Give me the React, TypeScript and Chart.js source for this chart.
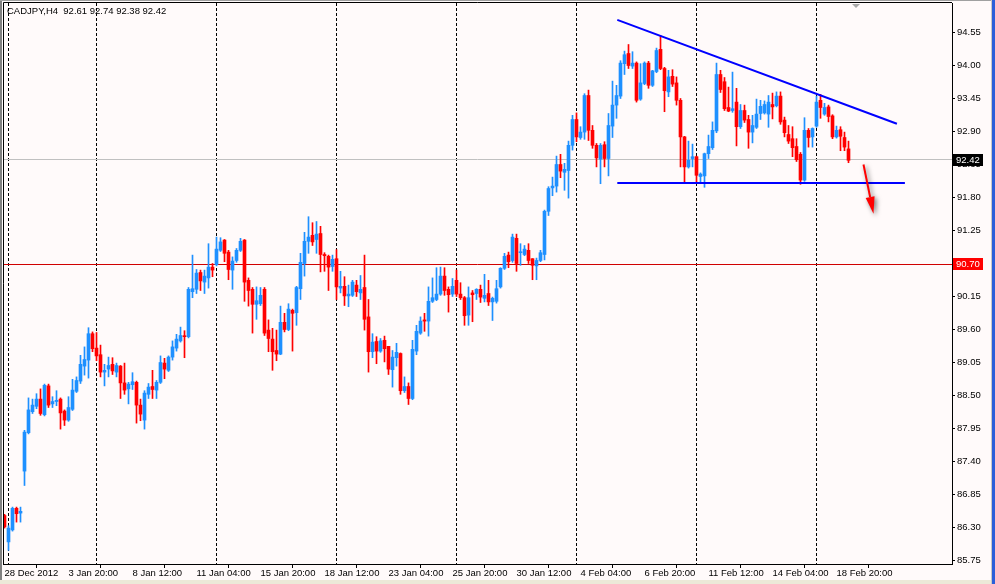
import React, { useEffect, useRef } from "react";
import { Chart, registerables } from "chart.js";

Chart.register(...registerables);

const symbol = "CADJPY";
const timeframe = "H4";

// H4 candles, oldest first (28 Dec 2012 .. 19 Feb 2013)
const opens = [
  86.5, 86.06, 86.26, 86.62, 86.54, 87.24, 87.88, 88.23, 88.32, 88.44, 88.18, 88.66, 88.36, 88.4, 88.44, 88.24,
  88.09, 88.27, 88.57, 88.74, 88.99, 89.09, 89.53, 89.29, 89.18, 88.89, 88.94, 89.02, 88.89, 88.99, 88.71, 88.61,
  88.68, 88.72, 88.34, 88.09, 88.52, 88.65, 88.59, 88.72, 89.04, 88.92, 89.14, 89.29, 89.41, 89.49, 89.48, 90.23,
  90.27, 90.55, 90.39, 90.46, 90.64, 90.68, 90.92, 91.09, 90.89, 90.59, 90.75, 90.92, 91.09, 90.42, 90.27, 90.02,
  90.03, 90.27, 89.59, 89.44, 89.25, 89.19, 89.72, 89.6, 89.92, 89.88, 90.28, 90.7, 91.07, 91.17, 91.1, 91.2,
  90.85, 90.82, 90.65, 90.78, 90.29, 90.32, 90.16, 90.17, 90.34, 90.21, 90.3, 89.81, 89.23, 89.4, 89.24, 89.42,
  89.32, 88.93, 89.13, 89.2, 88.58, 88.65, 88.45, 89.24, 89.54, 89.76, 89.74, 90.07, 90.1, 90.19, 90.49, 90.27,
  90.19, 90.42, 90.19, 90.13, 89.84, 90.21, 90.2, 90.27, 90.12, 90.2, 90.06, 90.07, 90.31, 90.62, 90.84, 90.75,
  91.12, 90.88, 90.85, 90.92, 90.78, 90.66, 90.75, 90.85, 91.57, 91.96, 91.99, 92.35, 92.22, 92.25, 92.67, 93.1,
  92.8, 92.89, 93.5, 92.92, 92.67, 92.44, 92.68, 92.45, 92.99, 93.34, 93.49, 94.03, 94.2, 93.99, 94.04, 93.44,
  93.7, 94.04, 93.67, 93.9, 94.27, 93.95, 93.56, 93.82, 93.71, 93.42, 92.81, 92.31, 92.45, 92.48, 92.15, 92.16,
  92.53, 92.63, 92.91, 93.85, 93.73, 93.3, 93.25, 93.39, 92.98, 93.25, 93.1, 92.89, 92.97, 93.2, 93.21, 93.19,
  93.35, 93.33, 93.49, 93.09, 92.85, 92.78, 92.65, 92.52, 92.09, 92.92, 92.81, 92.99, 93.42, 93.19, 93.31, 93.16,
  92.81, 92.93, 92.8, 92.61,
];
const highs = [
  86.52, 86.33, 86.64, 86.64, 86.64, 87.92, 88.46, 88.44, 88.53, 88.61, 88.69, 88.69, 88.48, 88.58, 88.46, 88.26,
  88.48, 88.77, 88.81, 89.17, 89.31, 89.63, 89.56, 89.55, 89.34, 89.02, 89.14, 89.13, 89.04, 89.0, 89.04, 88.72,
  88.88, 88.74, 88.44, 88.58, 88.7, 88.92, 88.75, 89.16, 89.12, 89.16, 89.41, 89.52, 89.64, 89.58, 90.3, 90.84,
  90.6, 90.59, 90.59, 91.03, 90.7, 91.14, 91.13, 91.1, 90.92, 90.81, 90.95, 91.12, 91.1, 90.46, 90.3, 90.31,
  90.3, 90.3, 89.76, 89.62, 89.59, 89.99, 89.87, 90.03, 89.94, 90.32, 90.87, 91.22, 91.48, 91.38, 91.4, 91.32,
  90.88, 90.84, 90.84, 90.93, 90.57, 90.48, 90.34, 90.42, 90.42, 90.5, 90.84, 90.1, 89.53, 89.48, 89.45, 89.49,
  89.32, 89.25, 89.37, 89.21, 88.81, 88.71, 89.42, 89.67, 89.81, 89.87, 90.31, 90.46, 90.63, 90.64, 90.63, 90.31,
  90.45, 90.59, 90.38, 90.15, 90.31, 90.25, 90.28, 90.34, 90.52, 90.42, 90.14, 90.42, 90.63, 90.87, 90.89, 91.19,
  91.19, 91.03, 91.0, 91.03, 90.78, 90.79, 90.92, 91.59, 91.98, 92.14, 92.49, 92.52, 92.37, 92.74, 93.17, 93.21,
  92.98, 93.53, 93.59, 93.0, 92.7, 92.7, 92.73, 93.2, 93.74, 93.67, 94.08, 94.24, 94.35, 94.23, 94.06, 94.03,
  94.06, 94.07, 93.92, 94.29, 94.5, 93.97, 93.92, 93.93, 93.81, 93.45, 92.82, 92.74, 92.69, 92.49, 92.21, 92.54,
  92.84, 93.06, 94.04, 93.92, 93.8, 93.64, 93.89, 93.62, 93.35, 93.34, 93.17, 93.17, 93.44, 93.42, 93.41, 93.5,
  93.54, 93.56, 93.56, 93.14, 93.0, 92.98, 92.78, 92.55, 93.13, 92.95, 92.96, 93.49, 93.52, 93.37, 93.34, 93.18,
  92.99, 92.98, 92.89, 92.74,
];
const lows = [
  86.29, 85.92, 86.24, 86.39, 86.39, 87.0, 87.86, 88.2, 88.28, 88.17, 88.16, 88.3, 88.3, 88.33, 87.94, 88.0,
  88.07, 88.25, 88.55, 88.7, 88.84, 88.79, 89.23, 89.08, 88.81, 88.66, 88.81, 88.85, 88.81, 88.45, 88.52, 88.36,
  88.6, 88.04, 88.08, 87.94, 88.45, 88.45, 88.45, 88.7, 88.78, 88.9, 89.09, 89.24, 89.39, 89.13, 89.46, 90.13,
  90.2, 90.25, 90.2, 90.29, 90.48, 90.66, 90.9, 90.73, 90.43, 90.27, 90.72, 90.9, 90.07, 89.99, 89.54, 89.77,
  90.0, 89.5, 89.23, 88.92, 89.08, 89.18, 89.56, 89.58, 89.24, 89.67, 90.1, 90.49, 90.87, 91.0, 90.87, 90.56,
  90.57, 90.25, 90.57, 90.1, 90.21, 90.0, 89.98, 90.15, 90.15, 90.1, 89.59, 88.89, 89.13, 89.03, 89.22, 89.06,
  88.85, 88.64, 88.99, 88.52, 88.55, 88.35, 88.43, 89.18, 89.52, 89.57, 89.49, 90.05, 90.08, 90.17, 90.17, 89.89,
  90.15, 90.15, 90.1, 89.67, 89.67, 89.73, 90.1, 90.05, 90.06, 90.0, 89.75, 90.04, 90.29, 90.6, 90.63, 90.72,
  90.57, 90.67, 90.83, 90.7, 90.43, 90.43, 90.73, 90.76, 91.5, 91.83, 91.89, 92.13, 91.92, 91.79, 92.59, 92.73,
  92.77, 92.77, 92.75, 92.62, 92.31, 92.03, 92.31, 92.16, 92.8, 93.12, 93.45, 93.85, 93.95, 93.95, 93.39, 93.42,
  93.68, 93.62, 93.65, 93.88, 93.93, 93.23, 93.48, 93.65, 93.34, 92.31, 92.04, 92.29, 92.31, 92.03, 92.03, 91.97,
  92.45, 92.6, 92.88, 93.55, 93.25, 93.23, 93.22, 92.66, 92.95, 93.05, 92.62, 92.71, 92.95, 93.1, 93.19, 92.97,
  93.11, 93.31, 93.02, 92.81, 92.7, 92.48, 92.4, 92.02, 92.07, 92.64, 92.64, 92.97, 93.12, 93.17, 93.06, 92.78,
  92.79, 92.58, 92.58, 92.38,
];
const closes = [
  86.31, 86.29, 86.62, 86.53, 86.57, 87.89, 88.26, 88.34, 88.44, 88.2, 88.67, 88.34, 88.4, 88.42, 88.21, 88.09,
  88.3, 88.59, 88.75, 89.02, 89.1, 89.53, 89.28, 89.16, 88.89, 88.92, 89.0, 88.91, 89.0, 88.71, 88.59, 88.69,
  88.73, 88.34, 88.19, 88.54, 88.64, 88.6, 88.72, 89.05, 88.94, 89.14, 89.31, 89.44, 89.5, 89.48, 90.27, 90.28,
  90.54, 90.41, 90.49, 90.64, 90.59, 90.94, 91.06, 90.87, 90.6, 90.74, 90.92, 91.07, 90.39, 90.25, 90.02, 90.08,
  90.17, 89.54, 89.45, 89.23, 89.19, 89.72, 89.6, 89.94, 89.87, 90.3, 90.72, 91.07, 91.14, 91.06, 91.19, 90.85,
  90.83, 90.64, 90.77, 90.31, 90.32, 90.16, 90.19, 90.39, 90.23, 90.27, 89.77, 89.23, 89.39, 89.24, 89.41, 89.28,
  88.94, 89.14, 89.22, 88.58, 88.65, 88.45, 89.27, 89.57, 89.74, 89.74, 90.07, 90.13, 90.19, 90.49, 90.25, 90.18,
  90.32, 90.19, 90.13, 89.83, 90.13, 90.18, 90.27, 90.14, 90.17, 90.06, 90.12, 90.28, 90.62, 90.82, 90.73, 91.14,
  90.7, 90.89, 90.94, 90.75, 90.67, 90.75, 90.88, 91.57, 91.95, 91.99, 92.35, 92.24, 92.27, 92.67, 93.1, 92.81,
  92.89, 93.5, 92.92, 92.67, 92.46, 92.67, 92.45, 93.0, 93.34, 93.5, 94.04, 94.18, 94.0, 94.04, 93.42, 93.71,
  94.04, 93.67, 93.91, 94.25, 93.95, 93.58, 93.81, 93.69, 93.42, 92.81, 92.31, 92.42, 92.48, 92.17, 92.19, 92.53,
  92.65, 92.92, 93.85, 93.6, 93.28, 93.24, 93.28, 92.98, 93.25, 93.09, 92.89, 93.0, 93.19, 93.32, 93.35, 93.39,
  93.31, 93.49, 93.06, 92.88, 92.74, 92.63, 92.43, 92.09, 92.92, 92.8, 92.95, 93.39, 93.3, 93.3, 93.15, 92.81,
  92.92, 92.82, 92.64, 92.42,
];

// time axis labels (every 16 bars) and weekly separators
const xTickBars = [0, 16, 32, 48, 64, 80, 96, 112, 128, 144, 160, 176, 192, 208];
const xTickLabels = [
  "28 Dec 2012", "3 Jan 20:00", "8 Jan 12:00", "11 Jan 04:00", "15 Jan 20:00", "18 Jan 12:00", "23 Jan 04:00",
  "25 Jan 20:00", "30 Jan 12:00", "4 Feb 04:00", "6 Feb 20:00", "11 Feb 12:00", "14 Feb 04:00", "18 Feb 20:00",
];
const weekStartBars = [1, 23, 53, 83, 113, 143, 173, 203];
const yTickValues = [
  85.75, 86.3, 86.85, 87.4, 87.95, 88.5, 89.05, 89.6, 90.15, 90.7, 91.25, 91.8, 92.35, 92.9, 93.45, 94.0, 94.55,
];
const levelPrice = 90.7;

// hand drawn objects (bar index, price)
const resistanceLine = [
  { x: 153.2, y: 94.76 },
  { x: 223.1, y: 93.03 },
];
const supportLine = [
  { x: 153.2, y: 92.04 },
  { x: 225.1, y: 92.04 },
];
const arrowFrom = { x: 214.75, y: 92.35 };
const arrowTo = { x: 217.25, y: 91.53 };
const chartShiftBar = 212.9;

const FONT = "'Liberation Sans', Arial, sans-serif";
const FONT_SIZE = 9.5;
const UP = "#1E90FF";
const DOWN = "#FF0000";

const mt4Plugin = {
  id: "mt4Decor",
  beforeDraw(chart: any) {
    const { ctx, width, height } = chart;
    ctx.save();
    ctx.fillStyle = "#FFFAFA";
    ctx.fillRect(0, 0, width, height);
    ctx.fillStyle = "#ECE9D8";
    ctx.fillRect(0, 580, width, height - 580);
    ctx.fillStyle = "#808080";
    ctx.fillRect(0, 0, 2, 580);
    ctx.fillStyle = "#A0A0A0";
    ctx.fillRect(0, 0, width, 1);
    ctx.restore();
  },
  beforeDatasetsDraw(chart: any) {
    const { ctx, chartArea: a } = chart;
    const xs = chart.scales.x;
    const ys = chart.scales.y;
    ctx.save();
    ctx.beginPath();
    ctx.rect(a.left, a.top, a.right - a.left, a.bottom - a.top);
    ctx.clip();
    // weekly separators
    ctx.strokeStyle = "#000";
    ctx.lineWidth = 1;
    ctx.setLineDash([3, 2]);
    weekStartBars.forEach((b) => {
      const px = Math.floor(xs.getPixelForValue(b)) + 0.5;
      ctx.beginPath();
      ctx.moveTo(px, a.top);
      ctx.lineTo(px, a.bottom);
      ctx.stroke();
    });
    ctx.setLineDash([]);
    // level line and bid line
    const lv = Math.round(ys.getPixelForValue(levelPrice)) + 0.5;
    ctx.strokeStyle = "#D00000";
    ctx.beginPath();
    ctx.moveTo(a.left, lv);
    ctx.lineTo(a.right, lv);
    ctx.stroke();
    const bid = Math.round(ys.getPixelForValue(closes[closes.length - 1])) - 0.5;
    ctx.strokeStyle = "#C0C0C0";
    ctx.beginPath();
    ctx.moveTo(a.left, bid);
    ctx.lineTo(a.right, bid);
    ctx.stroke();
    ctx.restore();
  },
  afterDatasetsDraw(chart: any) {
    const { ctx } = chart;
    const xs = chart.scales.x;
    const ys = chart.scales.y;
    const x1 = xs.getPixelForValue(arrowFrom.x);
    const y1 = ys.getPixelForValue(arrowFrom.y);
    const x2 = xs.getPixelForValue(arrowTo.x);
    const y2 = ys.getPixelForValue(arrowTo.y);
    const ang = Math.atan2(y2 - y1, x2 - x1);
    const headLen = 17;
    const headW = 4.5;
    const bx = x2 - Math.cos(ang) * headLen;
    const by = y2 - Math.sin(ang) * headLen;
    ctx.save();
    ctx.shadowColor = "rgba(0,0,0,0.55)";
    ctx.shadowBlur = 5;
    ctx.shadowOffsetX = 2;
    ctx.shadowOffsetY = 2;
    ctx.strokeStyle = "#FF0000";
    ctx.fillStyle = "#FF0000";
    ctx.lineWidth = 2;
    ctx.beginPath();
    ctx.moveTo(x1, y1);
    ctx.lineTo(bx, by);
    ctx.stroke();
    ctx.beginPath();
    ctx.moveTo(x2, y2);
    ctx.lineTo(bx + Math.sin(ang) * headW, by - Math.cos(ang) * headW);
    ctx.lineTo(bx - Math.sin(ang) * headW, by + Math.cos(ang) * headW);
    ctx.closePath();
    ctx.fill();
    ctx.restore();
  },
  afterDraw(chart: any) {
    const { ctx, chartArea: a, width } = chart;
    const xs = chart.scales.x;
    const ys = chart.scales.y;
    ctx.save();
    // frame left/top
    ctx.strokeStyle = "#000";
    ctx.lineWidth = 1;
    ctx.beginPath();
    ctx.moveTo(a.left + 0.5, a.bottom);
    ctx.lineTo(a.left + 0.5, a.top - 0.5);
    ctx.lineTo(a.right, a.top - 0.5);
    ctx.stroke();
    // right edge
    ctx.fillStyle = "#C8C8C8";
    ctx.fillRect(width - 4, 0, 1, 584);
    ctx.fillStyle = "#2B5FD9";
    ctx.fillRect(width - 3, 0, 3, 584);
    // price boxes
    ctx.font = `${FONT_SIZE}px ${FONT}`;
    ctx.textBaseline = "middle";
    ctx.textAlign = "left";
    const boxes = [
      { v: closes[closes.length - 1], bg: "#000000" },
      { v: levelPrice, bg: "#FF0000" },
    ];
    boxes.forEach((b) => {
      const cy = Math.round(ys.getPixelForValue(b.v));
      ctx.fillStyle = b.bg;
      ctx.fillRect(a.right + 1, cy - 6, 30, 12);
      ctx.fillStyle = "#FFFFFF";
      ctx.fillText(b.v.toFixed(2), a.right + 4, cy);
    });
    // header
    const n = closes.length - 1;
    ctx.fillStyle = "#000";
    ctx.fillText(
      `${symbol},${timeframe}  ${opens[n].toFixed(2)} ${highs[n].toFixed(2)} ${lows[n].toFixed(2)} ${closes[n].toFixed(2)}`,
      a.left + 4,
      a.top + 8
    );
    // chart shift marker
    const sx = Math.round(xs.getPixelForValue(chartShiftBar));
    ctx.fillStyle = "#A8A8A8";
    ctx.beginPath();
    ctx.moveTo(sx - 4, a.top + 1);
    ctx.lineTo(sx + 4, a.top + 1);
    ctx.lineTo(sx, a.top + 5);
    ctx.closePath();
    ctx.fill();
    ctx.restore();
  },
};

const App = () => {
  const canvasRef = useRef<HTMLCanvasElement | null>(null);
  const chartRef = useRef<Chart | null>(null);

  useEffect(() => {
    const ctx = canvasRef.current?.getContext("2d");
    if (!ctx) return;
    if (chartRef.current) chartRef.current.destroy();

    const colors = closes.map((c, i) => (c >= opens[i] ? UP : DOWN));
    const bodies = closes.map((c, i) => ({ x: i, y: [opens[i], c] }));
    const wicks = closes.map((_, i) => ({ x: i, y: [lows[i], highs[i]] }));

    chartRef.current = new Chart(ctx, {
      type: "bar",
      data: {
        datasets: [
          {
            type: "line",
            data: resistanceLine,
            borderColor: "#0000FF",
            borderWidth: 2,
            pointRadius: 0,
            order: 0,
          } as any,
          {
            type: "line",
            data: supportLine,
            borderColor: "#0000FF",
            borderWidth: 2,
            pointRadius: 0,
            order: 0,
          } as any,
          {
            data: bodies,
            backgroundColor: colors,
            borderWidth: 0,
            barThickness: 3,
            minBarLength: 1,
            grouped: false,
            order: 1,
          },
          {
            data: wicks,
            backgroundColor: colors,
            borderWidth: 0,
            barThickness: 1,
            minBarLength: 1,
            grouped: false,
            order: 2,
          },
        ],
      },
      options: {
        responsive: false,
        devicePixelRatio: 1,
        animation: false,
        layout: { padding: { left: 3, top: 3, right: 0, bottom: 0 } },
        plugins: { legend: { display: false }, tooltip: { enabled: false } },
        scales: {
          x: {
            type: "linear",
            min: -0.375,
            max: 236.875,
            offset: false,
            grid: { drawOnChartArea: false, tickLength: 4, color: "#000" },
            border: { color: "#000", width: 1 },
            afterBuildTicks: (scale: any) => {
              scale.ticks = xTickBars.map((v) => ({ value: v }));
            },
            afterFit: (scale: any) => {
              scale.height = 20;
              scale.paddingLeft = 0;
              scale.paddingRight = 0;
            },
            ticks: {
              autoSkip: false,
              maxRotation: 0,
              minRotation: 0,
              align: "start",
              padding: 0,
              color: "#000",
              font: { family: FONT, size: FONT_SIZE },
              callback: (_v: any, i: number) => xTickLabels[i],
            },
          },
          y: {
            type: "linear",
            position: "right",
            min: 85.6917,
            max: 95.0417,
            grid: { drawOnChartArea: false, tickLength: 3, color: "#000" },
            border: { color: "#000", width: 1 },
            afterBuildTicks: (scale: any) => {
              scale.ticks = yTickValues.map((v) => ({ value: v }));
            },
            afterFit: (scale: any) => {
              scale.width = 43;
              scale.paddingTop = 0;
              scale.paddingBottom = 0;
            },
            ticks: {
              padding: 2,
              color: "#000",
              font: { family: FONT, size: FONT_SIZE },
              callback: (v: any) => Number(v).toFixed(2),
            },
          },
        },
      },
      plugins: [mt4Plugin],
    } as any);

    return () => {
      if (chartRef.current) {
        chartRef.current.destroy();
        chartRef.current = null;
      }
    };
  }, []);

  return (
    <div style={{ position: "fixed", left: 0, top: 0, width: 995, height: 584, background: "#FFFAFA" }}>
      <canvas ref={canvasRef} width={995} height={584} style={{ display: "block" }} />
    </div>
  );
};

export default App;
